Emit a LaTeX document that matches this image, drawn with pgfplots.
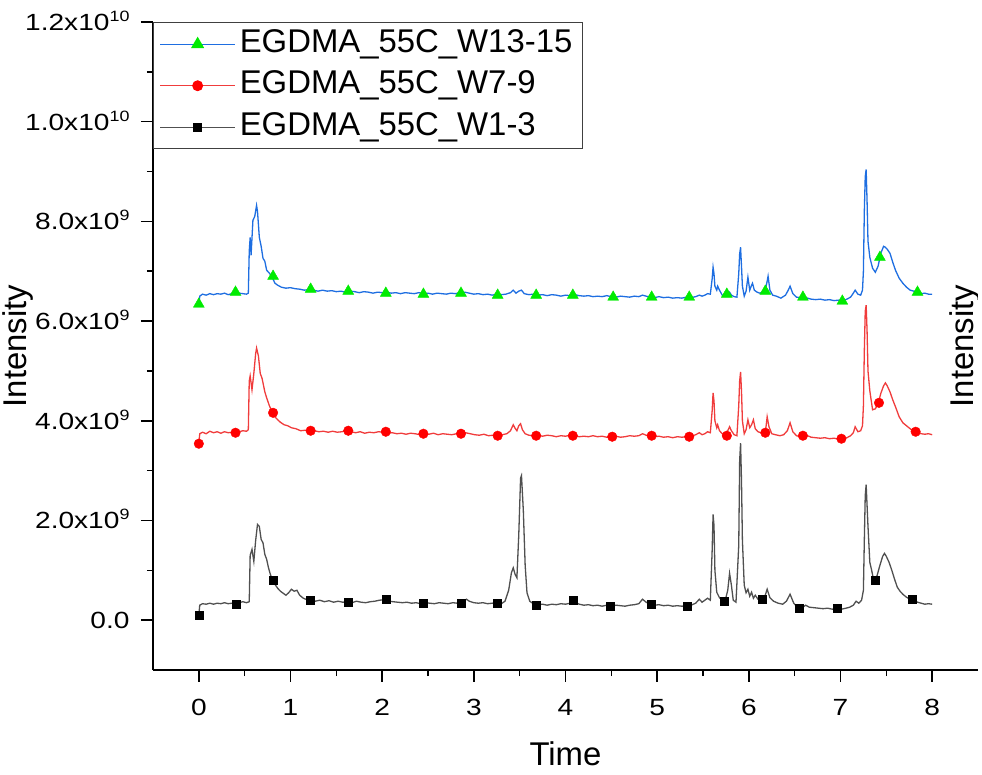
\documentclass[border=0pt]{standalone}
\usepackage{fontspec}
\setmainfont{Liberation Sans}
\newfontfamily\tickfont[FakeStretch=1.2]{Liberation Sans}
\usepackage{pgfplots}
\pgfplotsset{compat=1.18}
\definecolor{cblue}{RGB}{30,110,225}
\definecolor{cred}{RGB}{240,60,60}
\definecolor{cgray}{RGB}{80,80,80}
\definecolor{cgreen}{RGB}{0,235,0}
\newcommand{\sups}[1]{\raisebox{9bp}{\fontsize{15}{15}\selectfont #1}}
\begin{document}
\begin{tikzpicture}
\path[use as bounding box] (-153bp,-105bp) rectangle (829bp,670bp);
\begin{axis}[
  at={(0,0)}, anchor=south west,
  scale only axis, width=825bp, height=648bp,
  xmin=-0.5, xmax=8.5, ymin=-1, ymax=12,
  axis x line*=bottom, axis y line*=left,
  axis line style={line width=1.6bp, black},
  tick align=outside,
  major tick length=12bp, minor tick length=6bp,
  every tick/.style={line width=1.6bp, black},
  minor x tick num=1, minor y tick num=1,
  xtick={0,1,...,8},
  ytick={0,2,4,6,8,10,12},
  yticklabels={0.0, 2.0x10\sups{9}, 4.0x10\sups{9}, 6.0x10\sups{9}, 8.0x10\sups{9}, 1.0x10\sups{10}, 1.2x10\sups{10}},
  /pgf/number format/assume math mode=true,
  ticklabel style={font=\fontsize{23.5}{28}\selectfont\tickfont},
  xticklabel style={yshift=-14bp},
  yticklabel style={text height=17bp, text depth=0bp, xshift=-8bp},
  xlabel={Time}, ylabel={Intensity},
  label style={font=\fontsize{33}{40}\selectfont},
  xlabel style={at={(axis description cs:0.5,0)}, anchor=base, yshift=-95bp},
  ylabel style={at={(axis description cs:-0.1642,0.5)}, anchor=center},
  legend style={at={(0,1)}, anchor=north west, draw=black!75, line width=1bp,
    font=\fontsize{33}{40}\selectfont, inner xsep=6bp, inner ysep=1bp,
    nodes={inner sep=4bp, text height=25bp, text depth=8.5bp}},
  legend cell align=left,
  legend image code/.code={\draw[#1, mark repeat=2, mark phase=2] plot coordinates {(0bp,0bp) (37.5bp,0bp) (75bp,0bp)};},
]
\addlegendimage{cblue, line width=1.3bp, mark=triangle*, mark options={fill=cgreen, draw=cgreen, mark size=6.3bp}}
\addlegendentry{EGDMA\_55C\_W13-15}
\addlegendimage{cred, line width=1.3bp, mark=*, mark options={fill=red, draw=red, mark size=4.8bp}}
\addlegendentry{EGDMA\_55C\_W7-9}
\addlegendimage{cgray, line width=1.3bp, mark=square*, mark options={fill=black, draw=black, mark size=4bp}}
\addlegendentry{EGDMA\_55C\_W1-3}

% black W1-3
\addplot[cgray, line width=1.3bp, forget plot] table {
0.00 0.10
0.01 0.30
0.04 0.33
0.08 0.32
0.12 0.34
0.16 0.32
0.20 0.34
0.24 0.33
0.28 0.35
0.32 0.33
0.36 0.34
0.40 0.32
0.44 0.35
0.48 0.37
0.52 0.35
0.55 0.37
0.56 1.30
0.58 1.42
0.60 1.18
0.62 1.60
0.64 1.92
0.66 1.88
0.68 1.62
0.70 1.55
0.72 1.32
0.74 1.22
0.76 1.05
0.78 0.92
0.80 0.82
0.83 0.72
0.86 0.64
0.89 0.58
0.92 0.54
0.95 0.50
0.98 0.55
1.01 0.62
1.04 0.58
1.07 0.60
1.10 0.50
1.14 0.44
1.18 0.41
1.22 0.40
1.27 0.38
1.32 0.40
1.37 0.37
1.42 0.39
1.47 0.36
1.52 0.38
1.57 0.36
1.62 0.37
1.67 0.35
1.72 0.38
1.77 0.36
1.82 0.35
1.87 0.37
1.92 0.38
1.97 0.40
2.02 0.41
2.07 0.38
2.12 0.37
2.17 0.36
2.22 0.35
2.27 0.36
2.32 0.34
2.37 0.35
2.42 0.33
2.47 0.35
2.52 0.34
2.57 0.33
2.62 0.35
2.67 0.34
2.72 0.33
2.77 0.35
2.82 0.34
2.87 0.36
2.92 0.42
2.95 0.38
3.00 0.35
3.05 0.34
3.10 0.35
3.15 0.33
3.20 0.34
3.25 0.35
3.30 0.33
3.34 0.38
3.38 0.60
3.41 0.95
3.43 1.05
3.45 0.92
3.47 0.85
3.49 1.70
3.51 2.85
3.52 2.90
3.54 2.20
3.56 1.10
3.58 0.55
3.61 0.38
3.65 0.33
3.70 0.31
3.75 0.32
3.80 0.30
3.85 0.32
3.90 0.31
3.95 0.33
4.00 0.32
4.05 0.34
4.10 0.36
4.15 0.32
4.20 0.30
4.25 0.31
4.30 0.29
4.35 0.30
4.40 0.28
4.45 0.30
4.50 0.28
4.55 0.30
4.60 0.29
4.65 0.28
4.70 0.30
4.75 0.31
4.80 0.33
4.84 0.42
4.88 0.36
4.92 0.32
4.97 0.30
5.02 0.31
5.07 0.29
5.12 0.30
5.17 0.28
5.22 0.29
5.27 0.28
5.32 0.29
5.37 0.30
5.42 0.34
5.46 0.42
5.49 0.36
5.52 0.40
5.55 0.44
5.58 0.40
5.60 1.40
5.61 2.12
5.62 1.90
5.63 1.00
5.65 0.56
5.68 0.45
5.71 0.40
5.74 0.38
5.77 0.60
5.79 0.94
5.81 0.70
5.83 0.40
5.86 0.36
5.89 1.50
5.90 3.20
5.91 3.55
5.92 2.80
5.93 1.60
5.95 0.70
5.97 0.55
5.99 0.62
6.01 0.48
6.03 0.56
6.05 0.44
6.07 0.50
6.10 0.42
6.14 0.42
6.17 0.45
6.20 0.62
6.23 0.45
6.27 0.38
6.32 0.34
6.37 0.32
6.41 0.38
6.45 0.52
6.49 0.34
6.53 0.26
6.58 0.25
6.62 0.30
6.66 0.26
6.71 0.25
6.76 0.24
6.81 0.23
6.86 0.24
6.91 0.22
6.96 0.23
7.01 0.22
7.06 0.24
7.10 0.26
7.14 0.30
7.17 0.38
7.20 0.34
7.23 0.40
7.25 0.60
7.26 1.60
7.27 2.50
7.28 2.72
7.29 2.30
7.30 1.88
7.32 1.16
7.34 1.00
7.36 0.82
7.38 0.80
7.40 0.90
7.43 1.10
7.46 1.28
7.48 1.34
7.50 1.28
7.53 1.16
7.56 1.00
7.59 0.82
7.62 0.66
7.65 0.58
7.68 0.52
7.72 0.46
7.76 0.42
7.80 0.40
7.84 0.36
7.88 0.34
7.92 0.32
7.96 0.33
8.00 0.32
};
\addplot[only marks, mark=square*, mark size=4bp, black, forget plot] table {
0.00 0.10
0.41 0.32
0.81 0.80
1.22 0.40
1.63 0.36
2.04 0.42
2.45 0.34
2.86 0.34
3.26 0.34
3.68 0.30
4.08 0.40
4.49 0.28
4.93 0.32
5.33 0.28
5.73 0.38
6.15 0.42
6.55 0.24
6.96 0.24
7.38 0.80
7.78 0.42
};

% red W7-9
\addplot[cred, line width=1.3bp, forget plot] table {
0.00 3.54
0.01 3.74
0.04 3.77
0.08 3.74
0.12 3.79
0.16 3.76
0.20 3.78
0.24 3.75
0.28 3.78
0.32 3.76
0.36 3.77
0.40 3.75
0.44 3.78
0.48 3.80
0.52 3.79
0.54 3.82
0.55 4.80
0.56 4.90
0.58 4.62
0.60 4.95
0.62 5.35
0.63 5.46
0.65 5.30
0.67 4.95
0.69 4.85
0.72 4.58
0.74 4.46
0.77 4.30
0.80 4.18
0.83 4.08
0.86 4.02
0.89 3.97
0.93 3.92
0.97 3.90
1.01 3.86
1.06 3.84
1.11 3.80
1.16 3.81
1.21 3.78
1.26 3.80
1.31 3.78
1.36 3.79
1.41 3.77
1.46 3.79
1.51 3.77
1.56 3.78
1.61 3.80
1.66 3.78
1.71 3.76
1.76 3.78
1.81 3.75
1.86 3.77
1.91 3.76
1.96 3.78
2.01 3.77
2.06 3.75
2.11 3.76
2.16 3.74
2.21 3.75
2.26 3.73
2.31 3.75
2.36 3.74
2.41 3.72
2.46 3.74
2.51 3.73
2.56 3.75
2.61 3.72
2.66 3.74
2.71 3.73
2.76 3.72
2.81 3.74
2.86 3.73
2.91 3.76
2.96 3.74
3.01 3.72
3.06 3.71
3.11 3.73
3.16 3.70
3.21 3.71
3.26 3.70
3.31 3.72
3.36 3.74
3.40 3.80
3.43 3.92
3.45 3.85
3.47 3.80
3.49 3.90
3.51 3.94
3.53 3.82
3.56 3.74
3.60 3.71
3.65 3.70
3.70 3.71
3.75 3.69
3.80 3.71
3.85 3.70
3.90 3.68
3.95 3.70
4.00 3.69
4.05 3.71
4.10 3.70
4.15 3.68
4.20 3.69
4.25 3.68
4.30 3.70
4.35 3.68
4.40 3.69
4.45 3.67
4.50 3.68
4.55 3.69
4.60 3.67
4.65 3.68
4.70 3.70
4.75 3.69
4.80 3.70
4.84 3.74
4.88 3.71
4.92 3.70
4.97 3.68
5.02 3.69
5.07 3.67
5.12 3.68
5.17 3.66
5.22 3.68
5.27 3.67
5.32 3.68
5.37 3.69
5.42 3.72
5.46 3.76
5.49 3.72
5.52 3.74
5.55 3.78
5.58 3.76
5.60 4.20
5.61 4.56
5.62 4.40
5.63 4.00
5.65 3.86
5.66 3.92
5.68 3.80
5.71 3.74
5.74 3.72
5.77 3.80
5.79 3.88
5.81 3.80
5.84 3.72
5.87 3.70
5.89 4.30
5.90 4.80
5.91 4.98
5.92 4.60
5.93 4.00
5.95 3.74
5.97 3.82
5.99 4.02
6.01 3.86
6.03 3.92
6.05 4.02
6.07 3.84
6.10 3.78
6.13 3.76
6.16 3.74
6.18 3.76
6.20 4.08
6.22 3.88
6.25 3.74
6.29 3.72
6.34 3.70
6.38 3.72
6.42 3.80
6.45 3.96
6.48 3.78
6.52 3.70
6.56 3.68
6.60 3.68
6.64 3.70
6.68 3.67
6.73 3.66
6.78 3.65
6.83 3.66
6.88 3.64
6.93 3.65
6.98 3.63
7.03 3.64
7.07 3.66
7.11 3.70
7.14 3.76
7.16 3.88
7.19 3.78
7.22 3.80
7.24 3.90
7.25 4.30
7.26 5.40
7.27 6.20
7.28 6.32
7.29 5.80
7.30 5.00
7.32 4.60
7.35 4.22
7.38 4.24
7.41 4.34
7.44 4.55
7.47 4.70
7.49 4.76
7.51 4.70
7.54 4.58
7.57 4.42
7.60 4.28
7.64 4.08
7.68 3.96
7.72 3.90
7.76 3.84
7.80 3.78
7.84 3.76
7.88 3.74
7.92 3.73
7.96 3.74
8.00 3.72
};
\addplot[only marks, mark=*, mark size=4.8bp, red, forget plot] table {
0.00 3.54
0.40 3.76
0.81 4.16
1.22 3.80
1.63 3.80
2.04 3.78
2.45 3.74
2.86 3.74
3.26 3.70
3.68 3.70
4.08 3.70
4.51 3.68
4.94 3.70
5.35 3.68
5.76 3.70
6.18 3.76
6.59 3.70
7.01 3.64
7.42 4.36
7.82 3.78
};

% blue W13-15
\addplot[cblue, line width=1.3bp, forget plot] table {
0.00 6.32
0.01 6.50
0.04 6.54
0.08 6.52
0.12 6.55
0.16 6.53
0.20 6.55
0.24 6.54
0.28 6.56
0.32 6.53
0.36 6.55
0.40 6.54
0.44 6.56
0.48 6.55
0.52 6.54
0.54 6.56
0.55 7.40
0.56 7.68
0.57 7.32
0.59 8.02
0.61 8.10
0.63 8.32
0.64 8.20
0.66 7.68
0.68 7.50
0.70 7.26
0.72 7.20
0.74 7.02
0.77 6.96
0.80 6.88
0.83 6.76
0.86 6.72
0.90 6.68
0.95 6.66
1.00 6.67
1.05 6.65
1.10 6.64
1.15 6.62
1.20 6.63
1.25 6.62
1.30 6.60
1.35 6.62
1.40 6.60
1.45 6.61
1.50 6.59
1.55 6.60
1.60 6.58
1.65 6.60
1.70 6.59
1.75 6.57
1.80 6.59
1.85 6.58
1.90 6.56
1.95 6.58
2.00 6.57
2.05 6.58
2.10 6.56
2.15 6.57
2.20 6.55
2.25 6.57
2.30 6.56
2.35 6.55
2.40 6.57
2.45 6.55
2.50 6.56
2.55 6.54
2.60 6.56
2.65 6.55
2.70 6.54
2.75 6.56
2.80 6.55
2.85 6.57
2.90 6.58
2.95 6.56
3.00 6.54
3.05 6.55
3.10 6.53
3.15 6.54
3.20 6.52
3.25 6.54
3.30 6.53
3.35 6.54
3.40 6.57
3.43 6.62
3.46 6.56
3.49 6.60
3.52 6.62
3.55 6.55
3.60 6.53
3.65 6.54
3.70 6.52
3.75 6.53
3.80 6.51
3.85 6.53
3.90 6.52
3.95 6.50
4.00 6.52
4.05 6.51
4.10 6.53
4.15 6.51
4.20 6.50
4.25 6.51
4.30 6.49
4.35 6.50
4.40 6.49
4.45 6.51
4.50 6.49
4.55 6.48
4.60 6.50
4.65 6.49
4.70 6.48
4.75 6.50
4.80 6.49
4.84 6.52
4.88 6.50
4.92 6.48
4.97 6.47
5.02 6.49
5.07 6.47
5.12 6.48
5.17 6.46
5.22 6.47
5.27 6.46
5.32 6.48
5.37 6.47
5.42 6.49
5.46 6.52
5.49 6.50
5.52 6.52
5.55 6.55
5.58 6.54
5.60 6.85
5.61 7.08
5.62 6.95
5.63 6.70
5.65 6.62
5.66 6.70
5.68 6.62
5.71 6.52
5.74 6.50
5.77 6.54
5.79 6.58
5.81 6.52
5.84 6.49
5.87 6.48
5.89 6.95
5.90 7.35
5.91 7.48
5.92 7.10
5.93 6.70
5.95 6.50
5.97 6.60
5.99 6.88
6.01 6.62
6.03 6.72
6.04 6.76
6.06 6.62
6.09 6.58
6.12 6.56
6.15 6.58
6.18 6.62
6.20 6.80
6.21 6.90
6.23 6.62
6.26 6.52
6.30 6.50
6.35 6.46
6.40 6.52
6.43 6.62
6.45 6.70
6.48 6.55
6.52 6.48
6.56 6.47
6.60 6.48
6.64 6.46
6.68 6.44
6.73 6.43
6.78 6.44
6.83 6.42
6.88 6.43
6.93 6.41
6.98 6.42
7.03 6.41
7.07 6.44
7.11 6.48
7.14 6.56
7.16 6.62
7.19 6.54
7.22 6.52
7.24 6.62
7.25 7.00
7.26 8.20
7.27 8.90
7.28 9.04
7.29 8.40
7.30 7.60
7.32 7.28
7.35 7.06
7.38 6.98
7.41 7.10
7.44 7.36
7.47 7.50
7.49 7.48
7.51 7.44
7.54 7.36
7.57 7.18
7.60 7.02
7.64 6.86
7.68 6.76
7.72 6.68
7.76 6.62
7.80 6.60
7.84 6.58
7.88 6.55
7.92 6.56
7.96 6.54
8.00 6.54
};
\addplot[only marks, mark=triangle*, mark size=6.3bp, draw=cgreen, fill=cgreen, forget plot] table {
0.00 6.34
0.40 6.58
0.81 6.90
1.22 6.64
1.63 6.60
2.04 6.56
2.45 6.54
2.86 6.56
3.26 6.52
3.68 6.52
4.08 6.52
4.52 6.48
4.94 6.48
5.35 6.48
5.76 6.54
6.18 6.60
6.59 6.48
7.02 6.40
7.43 7.28
7.84 6.58
};
\node[rotate=90, font=\fontsize{33}{40}\selectfont] at (rel axis cs:0.984,0.5) {Intensity};
\end{axis}
\end{tikzpicture}
\end{document}
